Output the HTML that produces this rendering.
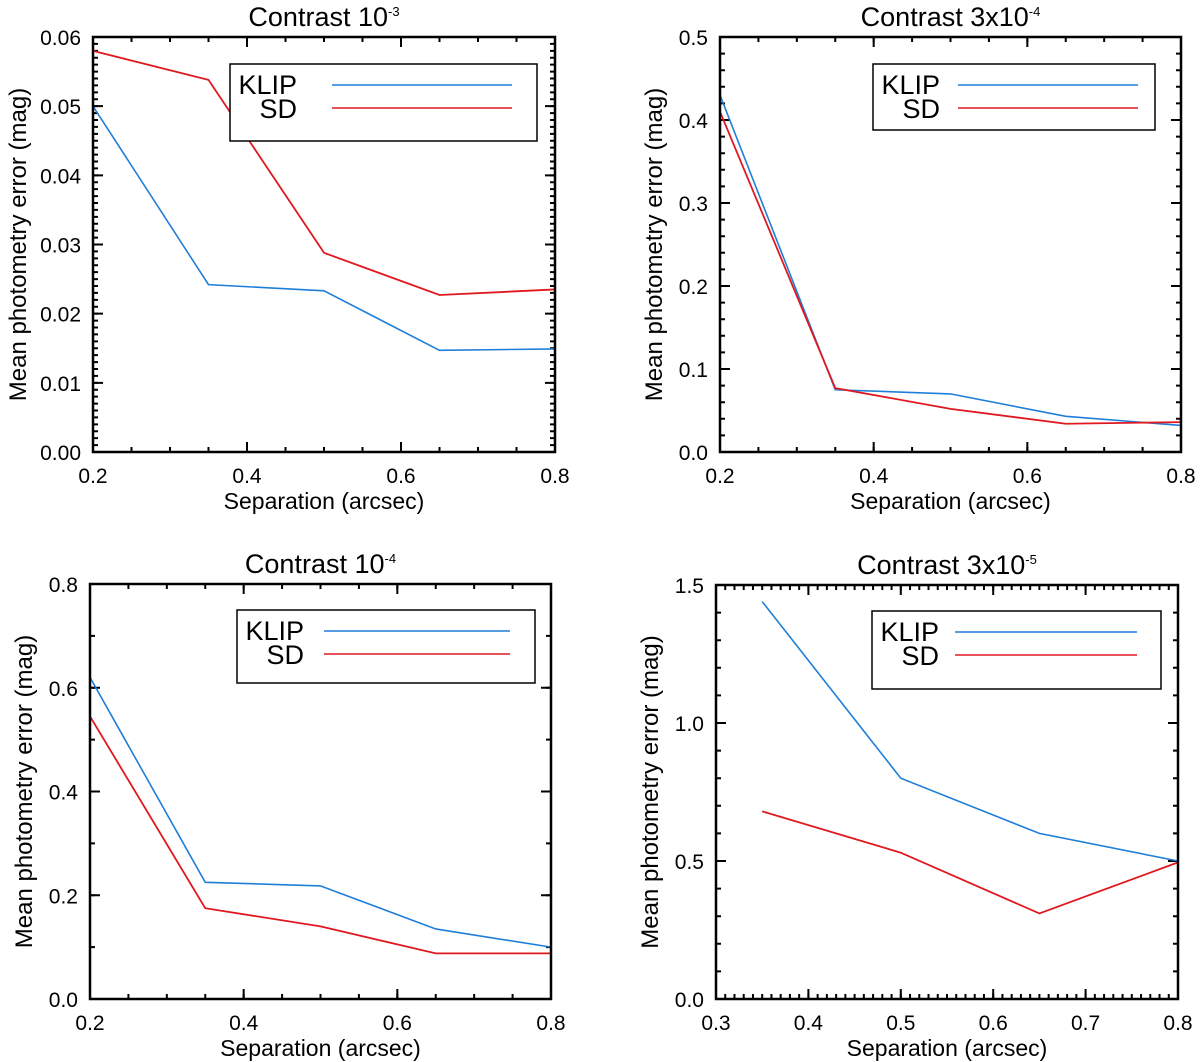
<!DOCTYPE html>
<html><head><meta charset="utf-8"><style>
html,body{margin:0;padding:0;background:#fff;}
svg{display:block;font-family:"Liberation Sans",sans-serif;}
</style></head><body>
<svg id="fig" width="1200" height="1062" viewBox="0 0 1200 1062"></svg>
<script>
const xs1 = [0.2, 0.35, 0.5, 0.65, 0.8];
const klip1 = [0.050, 0.0242, 0.0233, 0.0147, 0.0149];
const sd1 = [0.058, 0.0538, 0.0288, 0.0227, 0.0235];
const yTicks1 = ["0.00","0.01","0.02","0.03","0.04","0.05","0.06"];
const xTicks1 = ["0.2","0.4","0.6","0.8"];

const xs2 = [0.2, 0.35, 0.5, 0.65, 0.8];
const klip2 = [0.43, 0.075, 0.070, 0.043, 0.032];
const sd2 = [0.41, 0.077, 0.052, 0.034, 0.036];
const yTicks2 = ["0.0","0.1","0.2","0.3","0.4","0.5"];
const xTicks2 = ["0.2","0.4","0.6","0.8"];

const xs3 = [0.2, 0.35, 0.5, 0.65, 0.8];
const klip3 = [0.62, 0.225, 0.218, 0.135, 0.100];
const sd3 = [0.545, 0.175, 0.140, 0.088, 0.088];
const yTicks3 = ["0.0","0.2","0.4","0.6","0.8"];
const xTicks3 = ["0.2","0.4","0.6","0.8"];

const xs4 = [0.35, 0.5, 0.65, 0.8];
const klip4 = [1.44, 0.80, 0.60, 0.50];
const sd4 = [0.68, 0.53, 0.31, 0.495];
const yTicks4 = ["0.0","0.5","1.0","1.5"];
const xTicks4 = ["0.3","0.4","0.5","0.6","0.7","0.8"];

const NS = "http://www.w3.org/2000/svg";
const svg = document.getElementById('fig');
function mk(tag, attrs, parent){
  const e = document.createElementNS(NS, tag);
  for (const k in attrs) e.setAttribute(k, attrs[k]);
  (parent||svg).appendChild(e);
  return e;
}
const BLUE = "#1f7fd8", RED = "#e01820";

function panel(o){
  const g = mk('g', {});
  
  
  const sx = v => o.L + (v - o.x0)/(o.x1 - o.x0)*(o.R - o.L);
  const sy = v => o.B - (v - o.y0)/(o.y1 - o.y0)*(o.B - o.T);
  let d = "";
  const nxm = Math.round((o.x1-o.x0)/o.xmin);
  for (let i=0;i<=nxm;i++){ const x = sx(o.x0 + i*o.xmin); d += `M${x},${o.B}v-5M${x},${o.T}v5`; }
  const nym = Math.round((o.y1-o.y0)/o.ymin);
  for (let i=0;i<=nym;i++){ const y = sy(o.y0 + i*o.ymin); d += `M${o.L},${y}h5M${o.R},${y}h-5`; }
  const mt = mk('path', {d:d, stroke:"#000", "stroke-width":2, fill:"none"}, g);
  
  
  let dM = "";
  o.xt.forEach(t => { const x = sx(parseFloat(t)); dM += `M${x},${o.B}v-10M${x},${o.T}v10`; });
  o.yt.forEach(t => { const y = sy(parseFloat(t)); dM += `M${o.L},${y}h10M${o.R},${y}h-10`; });
  const Mt = mk('path', {d:dM, stroke:"#000", "stroke-width":2, fill:"none"}, g);
  
  
  o.xt.forEach(t => {
    const e = mk('text', {x:sx(parseFloat(t)), y:o.B+31, "font-size":21, "text-anchor":"middle"}, g);
    e.textContent = t;
    
    
  });
  o.yt.forEach(t => {
    const e = mk('text', {x:o.L-12, y:sy(parseFloat(t))+8, "font-size":21, "text-anchor":"end"}, g);
    e.textContent = t;
    
    
  });
  const line = (xs, ys, col, w, nm) => {
    const p = mk('polyline', {points: xs.map((x,i)=>sx(x)+","+sy(ys[i])).join(" "), stroke:col, "stroke-width":w, fill:"none"}, g);
    
    
  };
  line(o.xs, o.klip, BLUE, 1.6, 'klip-line');
  line(o.xs, o.sd, RED, 1.8, 'sd-line');
  const f = mk('rect', {x:o.L, y:o.T, width:o.R-o.L, height:o.B-o.T, fill:"none", stroke:"#000", "stroke-width":2.5}, g);
  
  
  const lg = mk('g', {}, g);
  
  
  const [bx,by,bw,bh] = o.leg;
  mk('rect', {x:bx, y:by, width:bw, height:bh, fill:"#fff", stroke:"#000", "stroke-width":1.5}, lg);
  const tx = bx + 67;
  const k = mk('text', {x:tx, y:by+30, "font-size":27, "text-anchor":"end"}, lg);
  k.textContent = "KLIP";
  
  
  const s = mk('text', {x:tx, y:by+54, "font-size":27, "text-anchor":"end"}, lg);
  s.textContent = "SD";
  
  
  mk('line', {x1:bx+o.l1, x2:bx+o.l2, y1:by+21, y2:by+21, stroke:BLUE, "stroke-width":1.6}, lg);
  mk('line', {x1:bx+o.l1, x2:bx+o.l2, y1:by+44, y2:by+44, stroke:RED, "stroke-width":1.6}, lg);
  const ti = mk('text', {x:(o.L+o.R)/2, y:o.T-11, "font-size":27, "text-anchor":"middle"}, g);
  ti.innerHTML = o.title + `<tspan dy="-10" font-size="13">${o.sup}</tspan>`;
  
  
  const xl = mk('text', {x:(o.L+o.R)/2, y:o.B+57, "font-size":23, "text-anchor":"middle"}, g);
  xl.textContent = "Separation (arcsec)";
  
  
  const yc = (o.T+o.B)/2;
  const yl = mk('text', {x:o.ylx, y:yc, "font-size":24, "text-anchor":"middle", transform:`rotate(-90 ${o.ylx} ${yc})`}, g);
  yl.textContent = "Mean photometry error (mag)";
  
  
}

panel({name:'panel-contrast-1e-3', L:93,R:555,T:37,B:452, x0:0.2,x1:0.8,y0:0,y1:0.06, xmin:0.05, ymin:0.001,
  xt:xTicks1, yt:yTicks1, xs:xs1, klip:klip1, sd:sd1, leg:[230,64,307,77], l1:102, l2:282,
  title:"Contrast 10", sup:"-3", ylx:26});
panel({name:'panel-contrast-3e-4', L:720,R:1181,T:37,B:452, x0:0.2,x1:0.8,y0:0,y1:0.5, xmin:0.05, ymin:0.02,
  xt:xTicks2, yt:yTicks2, xs:xs2, klip:klip2, sd:sd2, leg:[873,64,282,66], l1:85, l2:265,
  title:"Contrast 3x10", sup:"-4", ylx:662});
panel({name:'panel-contrast-1e-4', L:90,R:551,T:584,B:999, x0:0.2,x1:0.8,y0:0,y1:0.8, xmin:0.05, ymin:0.1,
  xt:xTicks3, yt:yTicks3, xs:xs3, klip:klip3, sd:sd3, leg:[237,610,298,73], l1:87, l2:273,
  title:"Contrast 10", sup:"-4", ylx:32});
panel({name:'panel-contrast-3e-5', L:716,R:1178,T:585,B:999, x0:0.3,x1:0.8,y0:0,y1:1.5, xmin:0.01, ymin:0.1,
  xt:xTicks4, yt:yTicks4, xs:xs4, klip:klip4, sd:sd4, leg:[872,611,289,78], l1:83, l2:265,
  title:"Contrast 3x10", sup:"-5", ylx:658});
</script>
</body></html>
